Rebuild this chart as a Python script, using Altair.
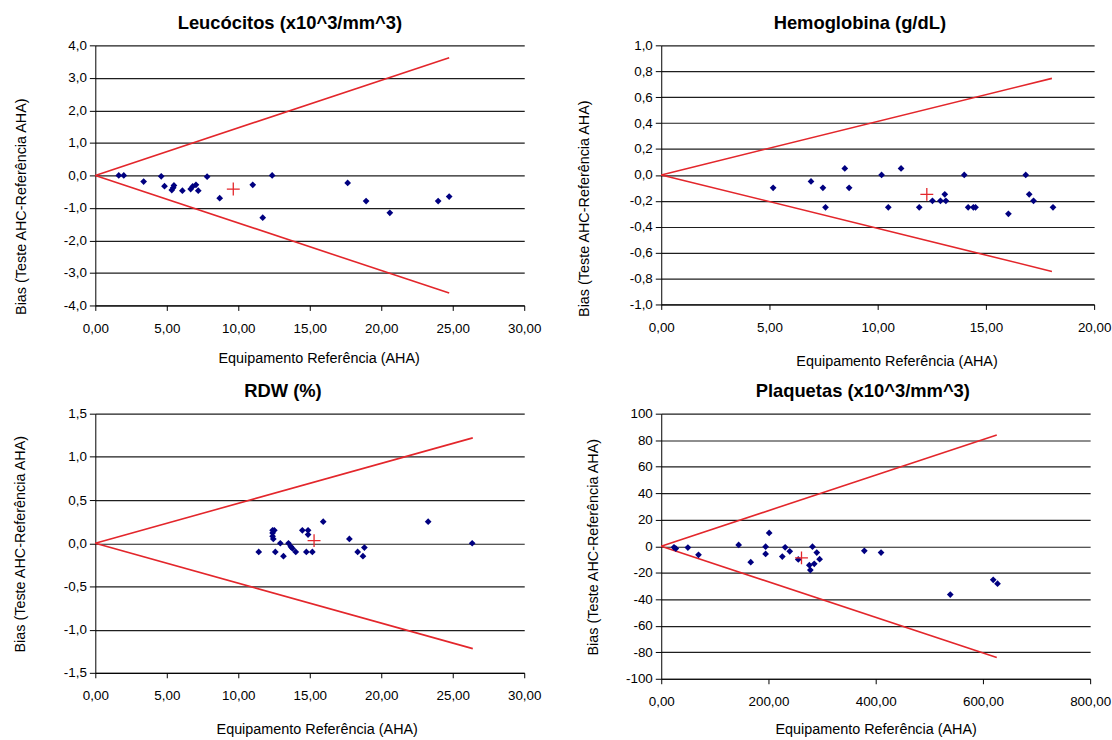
import altair as alt
import pandas as pd

FONT = "Liberation Sans, Arial, sans-serif"
PT_COLOR = "#000080"
RED = "#e3262b"

# ---------------- data ----------------
# Leucócitos
leu_x = [1.64, 1.99, 3.38, 4.61, 4.84, 5.35, 5.45, 5.50, 6.09, 6.67, 6.81, 7.04,
         7.20, 7.82, 8.70, 11.01, 11.71, 12.37, 17.65, 18.94, 20.60, 23.98, 24.75]
leu_y = [0.00, 0.00, -0.19, -0.03, -0.33, -0.45, -0.38, -0.31, -0.47, -0.42, -0.34, -0.29,
         -0.47, -0.04, -0.70, -0.29, -1.30, 0.00, -0.23, -0.79, -1.15, -0.79, -0.65]
leu_mean = [9.65, -0.42]
leu_limit = [24.75, 3.62]

# Hemoglobina
hb_x = [5.17, 6.92, 7.47, 7.59, 8.48, 8.68, 10.18, 10.49, 11.08, 11.92, 12.53, 12.90,
        13.10, 13.15, 14.00, 14.18, 14.42, 14.52, 16.04, 16.84, 17.00, 17.20, 18.10]
hb_y = [-0.10, -0.05, -0.10, -0.25, 0.05, -0.10, 0.00, -0.25, 0.05, -0.25, -0.20, -0.20,
        -0.15, -0.20, 0.00, -0.25, -0.25, -0.25, -0.30, 0.00, -0.15, -0.20, -0.25]
hb_mean = [12.27, -0.15]
hb_limit = [18.05, 0.745]

# RDW
rdw_x = [11.43, 12.40, 12.52, 12.40, 12.40, 12.45, 12.59, 12.94, 13.16, 13.51, 13.68, 13.79,
         14.02, 14.48, 14.76, 14.88, 14.88, 15.18, 15.94, 17.77, 18.35, 18.72, 18.82, 23.28, 26.36]
rdw_y = [-0.10, 0.15, 0.15, 0.12, 0.08, 0.05, -0.10, 0.00, -0.15, 0.00, -0.04, -0.06,
         -0.10, 0.15, -0.10, 0.15, 0.10, -0.10, 0.25, 0.05, -0.10, -0.15, -0.05, 0.25, 0.00]
rdw_mean = [15.30, 0.03]
rdw_limit = [26.40, 1.22]

# Plaquetas
plq_x = [23.8, 27.2, 49.7, 69.5, 144.4, 166.9, 194.7, 194.7, 201.3, 225.8, 231.1, 239.7,
         255.6, 276.2, 278.1, 282.1, 285.4, 290.1, 295.4, 378.8, 410.0, 539.1, 619.2, 627.2]
plq_y = [-0.8, -1.8, -1.0, -6.5, 1.0, -12.0, -0.3, -5.8, 10.0, -7.8, -0.8, -3.8,
         -10.0, -14.3, -18.0, -0.3, -13.3, -4.8, -9.8, -3.5, -4.8, -36.5, -25.3, -28.3]
plq_mean = [261.6, -8.8]
plq_limit = [625.8, 84.0]

# axis ticks
leu_xticks = [0, 5, 10, 15, 20, 25, 30]
leu_yticks = [-4, -3, -2, -1, 0, 1, 2, 3, 4]
hb_xticks = [0, 5, 10, 15, 20]
hb_yticks = [-1.0, -0.8, -0.6, -0.4, -0.2, 0.0, 0.2, 0.4, 0.6, 0.8, 1.0]
rdw_xticks = [0, 5, 10, 15, 20, 25, 30]
rdw_yticks = [-1.5, -1.0, -0.5, 0.0, 0.5, 1.0, 1.5]
plq_xticks = [0, 200, 400, 600, 800]
plq_yticks = [-100, -80, -60, -40, -20, 0, 20, 40, 60, 80, 100]

titles = ["Leucócitos (x10^3/mm^3)", "Hemoglobina (g/dL)", "RDW (%)", "Plaquetas (x10^3/mm^3)"]
x_title = "Equipamento Referência (AHA)"
y_title = "Bias (Teste AHC-Referência AHA)"

YFMT1 = "(datum.value < 0 ? '-' : '') + replace(format(abs(datum.value), '.1f'), '.', ',')"
YFMT0 = "(datum.value < 0 ? '-' : '') + format(abs(datum.value), 'd')"
XFMT = "replace(format(datum.value, '.2f'), '.', ',')"


def panel(title, xs, ys, mean, limit, xticks, yticks, yfmt, w, h,
          ytx, yty, xtx, xty, tdx):
    pts = pd.DataFrame({"x": xs, "y": ys})
    mdf = pd.DataFrame({"x": [mean[0]], "y": [mean[1]]})
    ldf = pd.DataFrame({"x": [0, 0], "y": [0, 0],
                        "x2": [limit[0], limit[0]], "y2": [limit[1], -limit[1]]})
    X = alt.X("x:Q",
              scale=alt.Scale(domain=[xticks[0], xticks[-1]], nice=False, zero=False),
              axis=alt.Axis(values=xticks, labelExpr=XFMT, grid=False,
                            domainColor="#000", domainWidth=1, tickColor="#000",
                            tickSize=5, labelPadding=11, labelFlush=False,
                            labelOverlap=False,
                            labelFont=FONT, labelFontSize=13.5, labelColor="#000",
                            title=x_title, titleFont=FONT, titleFontSize=14.5,
                            titleFontWeight="normal", titleColor="#000",
                            titleX=xtx, titleY=xty, titleBaseline="alphabetic",
                            titleAlign="center"))
    Y = alt.Y("y:Q",
              scale=alt.Scale(domain=[yticks[0], yticks[-1]], nice=False, zero=False),
              axis=alt.Axis(values=yticks, labelExpr=yfmt, grid=True,
                            gridColor="#1e1e1e", gridWidth=1.2,
                            domainColor="#000", domainWidth=1, tickColor="#000",
                            tickSize=6, labelPadding=3, labelFlush=False,
                            labelOverlap=False,
                            labelFont=FONT, labelFontSize=13.5, labelColor="#000",
                            title=y_title, titleFont=FONT, titleFontSize=14.5,
                            titleFontWeight="normal", titleColor="#000",
                            titleX=ytx, titleY=yty, titleAngle=270,
                            titleBaseline="middle", titleAlign="center"))
    rules = alt.Chart(ldf).mark_rule(color=RED, strokeWidth=1.6).encode(
        x=X, y=Y, x2=alt.X2("x2:Q"), y2=alt.Y2("y2:Q"))
    points = alt.Chart(pts).mark_point(shape="diamond", filled=True, size=46,
                                       color=PT_COLOR, opacity=1).encode(x=X, y=Y)
    cross = alt.Chart(mdf).mark_point(shape="M-1,0L1,0M0,-1L0,1", filled=False,
                                      size=169, color=RED, strokeWidth=1.3,
                                      opacity=1).encode(x=X, y=Y)
    return alt.layer(rules, points, cross).properties(
        width=w, height=h,
        title=alt.TitleParams(title, font=FONT, fontSize=18.5, fontWeight="bold",
                              color="#000", anchor="middle", baseline="alphabetic",
                              offset=-9, frame="group", dx=tdx))


p1 = panel(titles[0], leu_x, leu_y, leu_mean, leu_limit, leu_xticks, leu_yticks, YFMT1,
           432, 262, -74, 131 + 31, 216 + 9, 57, -20)
p2 = panel(titles[1], hb_x, hb_y, hb_mean, hb_limit, hb_xticks, hb_yticks, YFMT1,
           436, 261, -77, 130 + 34, 218 + 19, 61, -18)
p3 = panel(titles[2], rdw_x, rdw_y, rdw_mean, rdw_limit, rdw_xticks, rdw_yticks, YFMT1,
           432, 261, -75, 130 + 1, 216 + 7, 61, -27)
p4 = panel(titles[3], plq_x, plq_y, plq_mean, plq_limit, plq_xticks, plq_yticks, YFMT0,
           432, 267, -68, 133 + 1, 216, 55, -13)

chart = alt.concat(p1, p2, p3, p4, columns=2, bounds="flush",
                   spacing={"row": 109, "column": 138}).properties(
    padding={"left": 12, "top": 11, "right": 0, "bottom": 0},
    background="white",
).configure_view(stroke="transparent")

chart.save("out.html", embed_options={"renderer": "svg", "actions": False})
